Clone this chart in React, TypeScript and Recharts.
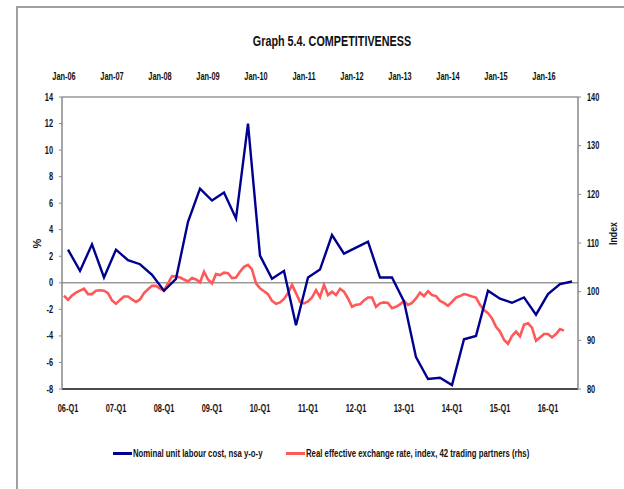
import React from 'react';
import { LineChart, Line, XAxis, YAxis, ReferenceLine } from 'recharts';

const years = ['06', '07', '08', '09', '10', '11', '12', '13', '14', '15', '16'];
const quarterTickLabels = years.map((y) => `${y}-Q1`);
const monthTickLabels = years.map((y) => `Jan-${y}`);

// Nominal unit labour cost, nsa y-o-y (%), quarterly 06-Q1 .. 16-Q3
const nulc = [
  2.5, 0.9, 2.9, 0.4, 2.5, 1.7, 1.4, 0.6, -0.6, 0.3,
  4.6, 7.1, 6.2, 6.8, 4.85, 12.0, 2.05, 0.3, 0.9, -3.2,
  0.4, 1.0, 3.6, 2.2, 2.65, 3.1, 0.4, 0.4, -1.4, -5.6,
  -7.25, -7.15, -7.7, -4.25, -4.0, -0.6, -1.2, -1.5, -1.1, -2.4,
  -0.85, -0.1, 0.1,
];

// Real effective exchange rate index, monthly Jan-06 .. Jun-16
const reer = [
  99.2, 98.3, 99.2, 99.8, 100.2, 100.6, 99.5, 99.5, 100.2, 100.3, 100.2, 99.7,
  98.2, 97.5, 98.3, 99.0, 99.0, 98.4, 97.9, 98.4, 99.7, 100.5, 101.2, 101.2,
  100.6, 100.2, 101.7, 103.2, 103.1, 102.9, 102.5, 102.1, 102.8, 102.5, 101.9, 104.1,
  102.5, 101.7, 103.6, 103.4, 103.9, 103.8, 102.8, 102.9, 104.1, 105.1, 105.5, 104.6,
  101.7, 100.7, 100.1, 99.5, 98.1, 97.5, 97.8, 98.5, 99.7, 101.4, 99.7, 97.9,
  97.6, 98.0, 98.8, 100.3, 98.9, 101.4, 99.3, 100.0, 99.3, 100.6, 100.0, 98.6,
  96.9, 97.3, 97.4, 98.2, 98.8, 98.8, 96.9, 97.6, 97.8, 97.7, 96.6, 96.9,
  97.4, 98.1, 97.3, 97.7, 98.6, 99.8, 99.1, 100.1, 99.3, 99.1, 98.1, 97.7,
  97.1, 97.9, 98.8, 99.1, 99.5, 99.3, 99.0, 98.8, 97.3, 96.2, 95.6, 94.5,
  92.8, 91.8, 90.1, 89.3, 90.9, 91.8, 90.8, 93.2, 93.5, 92.6, 89.9, 90.6,
  91.3, 91.3, 90.6, 91.3, 92.3, 92.0,
];

const leftTicks = [-8, -6, -4, -2, 0, 2, 4, 6, 8, 10, 12, 14];
const rightTicks = [80, 90, 100, 110, 120, 130, 140];

const TOTAL_MONTHS = 129;
const nulcData = nulc.map((v, i) => ({ x: i * 3 + 1.5, nulc: v }));
const reerData = reer.map((v, i) => ({ x: i + 0.5, reer: v }));
const bottomTicks = quarterTickLabels.map((_, i) => i * 12 + 1.5);
const topTicks = monthTickLabels.map((_, i) => i * 12 + 0.5);

const FONT = "'Liberation Sans', Arial, sans-serif";
const SX = 0.74;
const BLUE = '#000090';
const RED = '#FF5858';
const TEXT = '#111';

type TickKind = 'bottom' | 'top' | 'left' | 'right';

const makeTick = (kind: TickKind) => (props: any) => {
  const { x, y, payload } = props;
  const v = payload.value as number;
  let label = String(v);
  let anchor: 'middle' | 'end' | 'start' = 'middle';
  let dy: string | number = 0;
  if (kind === 'bottom') {
    label = quarterTickLabels[Math.round((v - 1.5) / 12)] ?? '';
    dy = '0.71em';
  } else if (kind === 'top') {
    label = monthTickLabels[Math.round((v - 0.5) / 12)] ?? '';
  } else if (kind === 'left') {
    anchor = 'end';
    dy = '0.355em';
  } else {
    anchor = 'start';
    dy = '0.355em';
  }
  return (
    <g transform={`translate(${x},${y})`}>
      <text
        transform={`scale(${SX},1)`}
        x={0}
        y={0}
        dy={dy}
        textAnchor={anchor}
        fill={TEXT}
        style={{ fontSize: 10, fontWeight: 700, fontFamily: FONT }}
      >
        {label}
      </text>
    </g>
  );
};

const scaledText = (left: number, top: number, text: string, size: number, origin = 'left center') => (
  <div
    style={{
      position: 'absolute',
      left,
      top,
      fontSize: size,
      fontWeight: 700,
      color: TEXT,
      whiteSpace: 'nowrap',
      lineHeight: 1,
      transform: `scaleX(${SX})`,
      transformOrigin: origin,
    }}
  >
    {text}
  </div>
);

export default function App() {
  return (
    <div style={{ position: 'absolute', left: 0, top: 0, width: 624, height: 489, overflow: 'hidden', background: '#fff', fontFamily: FONT }}>
      <div style={{ position: 'absolute', left: 16, top: 6, width: 700, height: 600, borderTop: '2px solid #a0a0a0', borderLeft: '2px solid #a0a0a0' }} />
      <div
        style={{
          position: 'absolute',
          left: 132,
          top: 33,
          width: 400,
          textAlign: 'center',
          fontSize: 15,
          fontWeight: 700,
          color: TEXT,
          lineHeight: 1,
          transform: `scaleX(0.72)`,
          transformOrigin: 'center center',
          whiteSpace: 'nowrap',
        }}
      >
        Graph 5.4. COMPETITIVENESS
      </div>
      <div style={{ position: 'absolute', left: 17, top: 238, width: 40, textAlign: 'center', fontSize: 11, fontWeight: 700, lineHeight: 1, transform: 'rotate(-90deg)', color: TEXT }}>%</div>
      <div style={{ position: 'absolute', left: 593, top: 228, width: 40, textAlign: 'center', fontSize: 11, fontWeight: 700, lineHeight: 1, transform: 'rotate(-90deg) scaleX(0.8)', color: TEXT }}>Index</div>
      <div style={{ position: 'absolute', left: 0, top: 0 }}>
        <LineChart width={624} height={489} margin={{ top: 67, right: 16, bottom: 70, left: 32 }}>
          <XAxis
            xAxisId="bottom"
            type="number"
            dataKey="x"
            domain={[0, TOTAL_MONTHS]}
            allowDataOverflow
            ticks={bottomTicks}
            height={30}
            tickLine={false}
            tickSize={0}
            tickMargin={16}
            axisLine={{ stroke: '#111', strokeWidth: 1.5 }}
            tick={makeTick('bottom')}
            interval={0}
          />
          <XAxis
            xAxisId="top"
            orientation="top"
            type="number"
            dataKey="x"
            domain={[0, TOTAL_MONTHS]}
            allowDataOverflow
            ticks={topTicks}
            height={30}
            tickLine={false}
            tickSize={0}
            tickMargin={17}
            axisLine={{ stroke: '#999', strokeWidth: 1.5 }}
            tick={makeTick('top')}
            interval={0}
          />
          <YAxis
            yAxisId="left"
            domain={[-8, 14]}
            ticks={leftTicks}
            width={30}
            tickSize={3}
            tickMargin={6}
            axisLine={{ stroke: '#888', strokeWidth: 1.5 }}
            tickLine={{ stroke: '#888' }}
            tick={makeTick('left')}
            interval={0}
          />
          <YAxis
            yAxisId="right"
            orientation="right"
            domain={[80, 140]}
            ticks={rightTicks}
            width={30}
            tickSize={3}
            tickMargin={6}
            axisLine={{ stroke: '#888', strokeWidth: 1.5 }}
            tickLine={{ stroke: '#888' }}
            tick={makeTick('right')}
            interval={0}
          />
          <ReferenceLine xAxisId="bottom" yAxisId="left" y={0} stroke="#999" strokeWidth={1.5} />
          <Line
            data={reerData}
            xAxisId="bottom"
            yAxisId="right"
            dataKey="reer"
            type="linear"
            stroke={RED}
            strokeWidth={2.6}
            dot={false}
            isAnimationActive={false}
          />
          <Line
            data={nulcData}
            xAxisId="bottom"
            yAxisId="left"
            dataKey="nulc"
            type="linear"
            stroke={BLUE}
            strokeWidth={2.4}
            dot={false}
            isAnimationActive={false}
          />
        </LineChart>
      </div>
      <div style={{ position: 'absolute', left: 113, top: 452, width: 19, height: 3, background: BLUE }} />
      {scaledText(133, 448, 'Nominal unit labour cost, nsa y-o-y', 10.5)}
      <div style={{ position: 'absolute', left: 286, top: 452, width: 19, height: 3, background: RED }} />
      {scaledText(306, 448, 'Real effective exchange rate, index, 42 trading partners (rhs)', 10.5)}
    </div>
  );
}
